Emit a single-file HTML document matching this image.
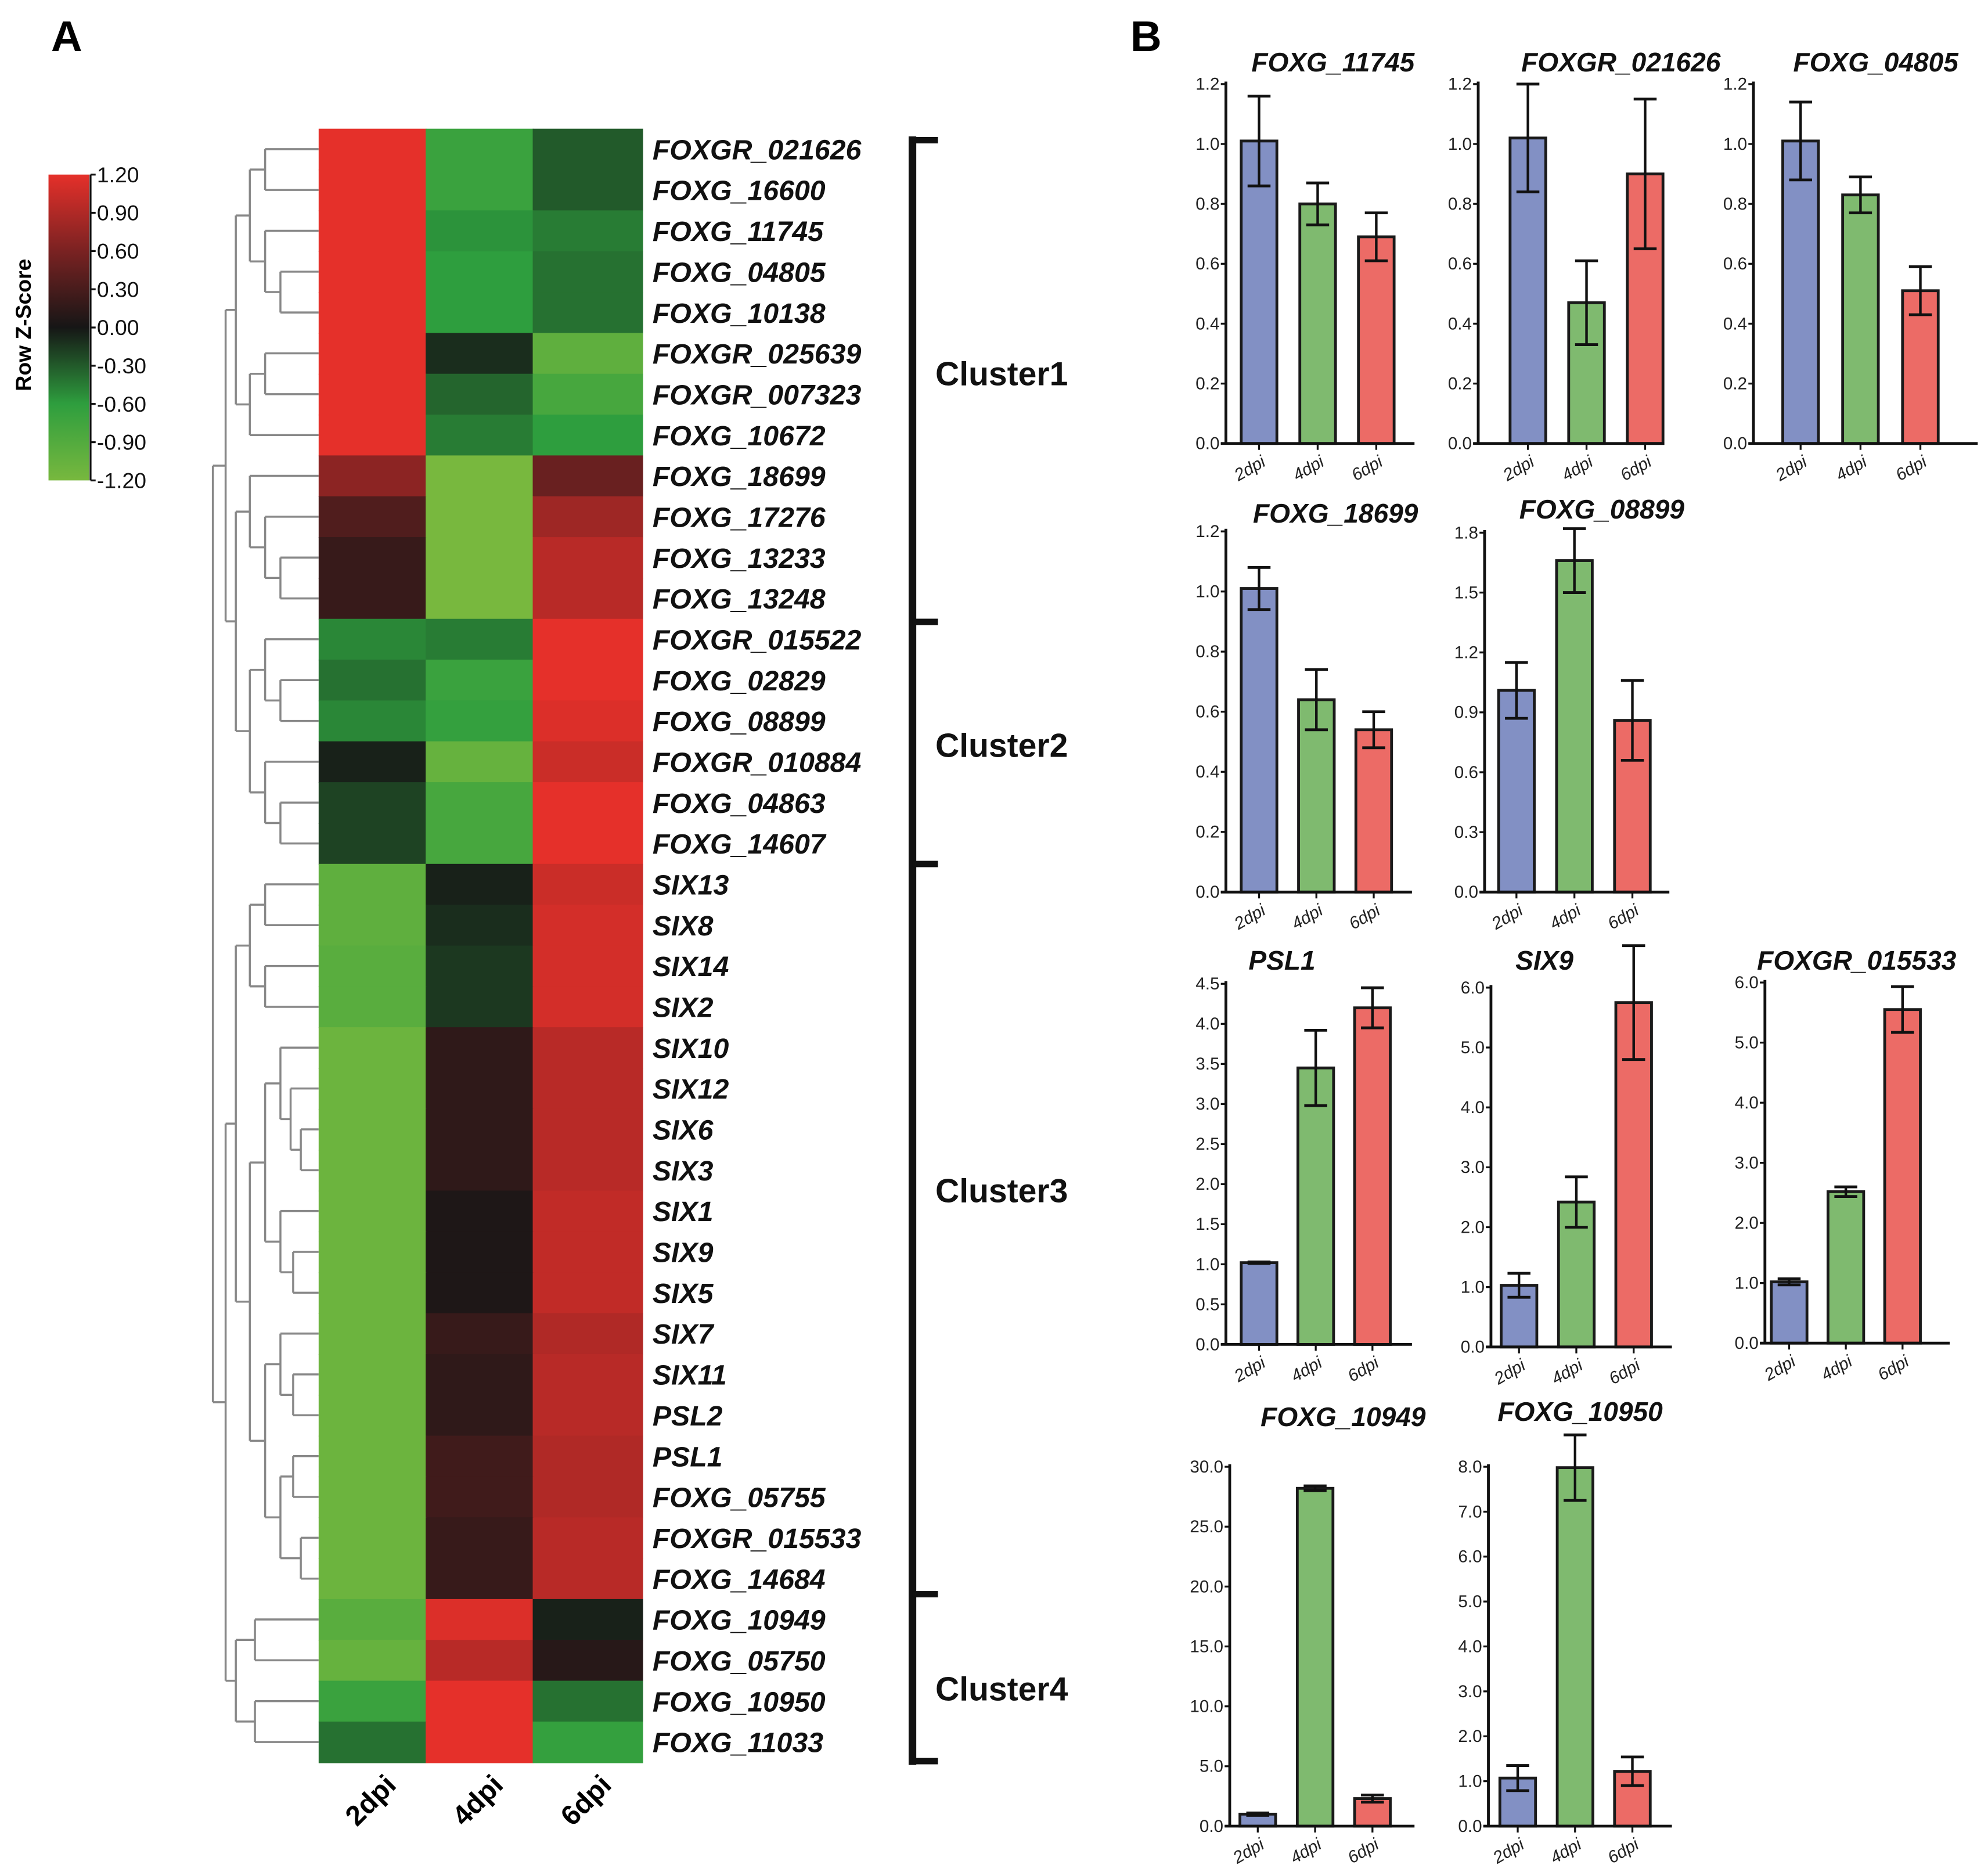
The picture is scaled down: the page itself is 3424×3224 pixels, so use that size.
<!DOCTYPE html>
<html><head><meta charset="utf-8"><style>
html,body{margin:0;padding:0;background:#fff;}
svg{display:block;}
text{font-family:"Liberation Sans",Arial,sans-serif;}
</style></head><body>
<svg id="fig" xmlns="http://www.w3.org/2000/svg" width="3424" height="3224" viewBox="0 0 1560 1469">
<rect x="0" y="0" width="1560" height="1469" fill="#fff"/>
<text x="40" y="40" font-size="34" font-weight="bold">A</text>
<text x="887" y="40" font-size="34" font-weight="bold">B</text>
<defs><linearGradient id="zg" x1="0" y1="0" x2="0" y2="1">
<stop offset="0" stop-color="#e5302a"/><stop offset="0.25" stop-color="#7a2222"/><stop offset="0.5" stop-color="#161616"/><stop offset="0.75" stop-color="#2e9e3e"/><stop offset="1" stop-color="#78b83e"/></linearGradient></defs>
<g id="legend"></g>
<g id="dendro"></g>
<g id="heat"></g>
<g id="clusters"></g>
<g id="bars"></g>
</svg>
<script>
const NS="http://www.w3.org/2000/svg";
const genes=["FOXGR_021626","FOXG_16600","FOXG_11745","FOXG_04805","FOXG_10138","FOXGR_025639","FOXGR_007323","FOXG_10672","FOXG_18699","FOXG_17276","FOXG_13233","FOXG_13248","FOXGR_015522","FOXG_02829","FOXG_08899","FOXGR_010884","FOXG_04863","FOXG_14607","SIX13","SIX8","SIX14","SIX2","SIX10","SIX12","SIX6","SIX3","SIX1","SIX9","SIX5","SIX7","SIX11","PSL2","PSL1","FOXG_05755","FOXGR_015533","FOXG_14684","FOXG_10949","FOXG_05750","FOXG_10950","FOXG_11033"];
const timepoints=["2dpi","4dpi","6dpi"];
const z2dpi=[1.2,1.2,1.2,1.2,1.2,1.2,1.2,1.2,0.7,0.35,0.2,0.2,-0.5,-0.4,-0.5,-0.05,-0.2,-0.2,-1.0,-1.0,-0.95,-0.95,-1.1,-1.1,-1.1,-1.1,-1.1,-1.1,-1.1,-1.1,-1.1,-1.1,-1.1,-1.1,-1.1,-1.1,-0.95,-1.05,-0.7,-0.4];
const z4dpi=[-0.7,-0.7,-0.55,-0.6,-0.6,-0.1,-0.35,-0.45,-1.2,-1.2,-1.2,-1.2,-0.45,-0.7,-0.65,-1.05,-0.8,-0.8,-0.05,-0.1,-0.15,-0.15,0.15,0.15,0.15,0.15,0.05,0.05,0.05,0.2,0.15,0.15,0.25,0.25,0.2,0.2,1.15,0.95,1.2,1.2];
const z6dpi=[-0.3,-0.3,-0.45,-0.4,-0.4,-1.0,-0.8,-0.6,0.5,0.8,0.95,0.95,1.2,1.2,1.15,1.05,1.2,1.2,1.05,1.1,1.1,1.1,0.95,0.95,0.95,0.95,1.0,1.0,1.0,0.9,0.95,0.95,0.9,0.9,0.95,0.95,-0.05,0.1,-0.4,-0.65];
const legendTicks=["1.20","0.90","0.60","0.30","0.00","-0.30","-0.60","-0.90","-1.20"];
const clusterNames=["Cluster1","Cluster2","Cluster3","Cluster4"];
const clusterLabelRows=[5.5,14.6,25.5,37.7];
// bar chart data
const panelTitles=["FOXG_11745","FOXGR_021626","FOXG_04805","FOXG_18699","FOXG_08899","PSL1","SIX9","FOXGR_015533","FOXG_10949","FOXG_10950"];
const panelMeans=[[1.01,0.80,0.69],[1.02,0.47,0.90],[1.01,0.83,0.51],[1.01,0.64,0.54],[1.01,1.66,0.86],[1.02,3.45,4.2],[1.03,2.42,5.75],[1.02,2.52,5.55],[1.0,28.2,2.3],[1.07,7.98,1.22]];
const panelErrs=[[0.15,0.07,0.08],[0.18,0.14,0.25],[0.13,0.06,0.08],[0.07,0.10,0.06],[0.14,0.16,0.2],[0.01,0.47,0.25],[0.2,0.42,0.95],[0.05,0.08,0.38],[0.1,0.2,0.3],[0.28,0.73,0.32]];
const panelMax=[1.2,1.2,1.2,1.2,1.8,4.5,6,6,30,8];
const panelStep=[0.2,0.2,0.2,0.2,0.3,0.5,1,1,5,1];
const panelDigits=[1,1,1,1,1,1,1,1,1,1];

function el(tag,attrs,parent){const e=document.createElementNS(NS,tag);for(const k in attrs)e.setAttribute(k,attrs[k]);parent.appendChild(e);return e;}
function lerp(a,b,t){return a.map((v,i)=>Math.round(v+(b[i]-v)*t));}
const stops=[[-1.2,[120,184,62]],[-0.6,[46,158,62]],[0,[22,22,22]],[0.6,[122,34,34]],[1.2,[229,48,42]]];
function zcol(z){z=Math.max(-1.2,Math.min(1.2,z));for(let i=0;i<stops.length-1;i++){if(z<=stops[i+1][0]){const t=(z-stops[i][0])/(stops[i+1][0]-stops[i][0]);const c=lerp(stops[i][1],stops[i+1][1],t);return `rgb(${c[0]},${c[1]},${c[2]})`;}}return "rgb(229,48,42)";}

// legend
const lg=document.getElementById('legend');
const lgTop=137,lgBot=377;
el('rect',{x:38,y:lgTop,width:32,height:lgBot-lgTop,fill:'url(#zg)'},lg);
el('line',{x1:71,y1:lgTop,x2:71,y2:lgBot,stroke:'#111','stroke-width':1.5},lg);
legendTicks.forEach((t,i)=>{const y=lgTop+(lgBot-lgTop)*i/(legendTicks.length-1);
 el('line',{x1:71,y1:y,x2:75,y2:y,stroke:'#111','stroke-width':1.5},lg);
 const tx=el('text',{x:76,y:y+6,'font-size':17,fill:'#111'},lg);tx.textContent=t;
 
 });
const lt=el('text',{x:0,y:0,'font-size':17,'font-weight':'bold',transform:'translate(24,255) rotate(-90)','text-anchor':'middle'},lg);lt.textContent="Row Z-Score";



// heatmap
const hm=document.getElementById('heat');
const hx0=250,colW=[84,84,86],hy0=101,hy1=1383,rowH=(hy1-hy0)/genes.length;
const cols=[z2dpi,z4dpi,z6dpi];
function rowY(i){return hy0+rowH*(i+0.5);}
genes.forEach((g,i)=>{let x=hx0;
 cols.forEach((arr,c)=>{const r=el('rect',{x:x,y:hy0+rowH*i,width:colW[c]+0.6,height:rowH+0.6,fill:zcol(arr[i])},hm);
  
  x+=colW[c];});
 const t=el('text',{x:512,y:rowY(i)+8,'font-size':22,'font-weight':'bold','font-style':'italic',fill:'#111'},hm);t.textContent=g;
 
 });
let cx=hx0;timepoints.forEach((tp,c)=>{const mx=cx+colW[c]/2+4;cx+=colW[c];
 const t=el('text',{x:0,y:0,'font-size':22,'font-weight':'bold','text-anchor':'middle',transform:`translate(${mx},${1418}) rotate(-45)`},hm);t.textContent=tp;
 
 });

// dendrogram
const N=(x,c)=>({x,c});
const tree=N(167,[
 N(177,[
  N(185,[N(196,[N(208,[0,1]),N(208,[2,N(220,[3,4])])]),N(196,[N(208,[5,6]),7])]),
  N(185,[N(196,[8,N(208,[9,N(220,[10,11])])]),N(196,[N(208,[12,N(220,[13,14])]),N(208,[15,N(220,[16,17])])])])
 ]),
 N(177,[
  N(185,[N(196,[N(208,[18,19]),N(208,[20,21])]),
         N(196,[N(208,[N(220,[22,N(228,[23,N(236,[24,25])])]),N(220,[26,N(230,[27,28])])]),
                N(208,[N(220,[29,N(230,[30,31])]),N(220,[N(230,[32,33]),N(236,[34,35])])])])]),
  N(185,[N(200,[36,37]),N(200,[38,39])])
 ])
]);
const dg=document.getElementById('dendro');
function draw(n){if(typeof n==='number')return {x:hx0,y:rowY(n)};
 const ch=n.c.map(draw);const ys=ch.map(c=>c.y);
 ch.forEach(c=>el('line',{x1:n.x,y1:c.y,x2:c.x,y2:c.y,stroke:'#888','stroke-width':1.6},dg));
 el('line',{x1:n.x,y1:Math.min(...ys),x2:n.x,y2:Math.max(...ys),stroke:'#888','stroke-width':1.6},dg);
 return {x:n.x,y:(Math.min(...ys)+Math.max(...ys))/2};}
draw(tree);

// cluster brackets
const cg=document.getElementById('clusters');
const bx=716;
const bTop=110,bBot=1382;
el('rect',{x:bx-3,y:bTop-3,width:6,height:bBot-bTop+6,fill:'#111'},cg);
[bTop,488,678,1251,bBot].forEach(y=>el('rect',{x:bx,y:y-2.5,width:20,height:5,fill:'#111'},cg));
clusterNames.forEach((nm,i)=>{const y=rowY(clusterLabelRows[i]-0.5)+rowH/2;
 const t=el('text',{x:734,y:y+9,'font-size':26,'font-weight':'bold',fill:'#111'},cg);t.textContent=nm;
 
 });

// bar charts
const layout=[ // axisX, y0, yTop, firstBarX, barSpacing, baselineEnd, titleX, titleY
 [962,348,66,988,46,1110,1046,56],[1160,348,66,1199,46,1306,1272,56],[1376,348,66,1413,47,1552,1472,56],
 [962,700,417,988,45,1108,1048,410],[1165,700,418,1190,45.5,1310,1257,407],
 [962,1055,772,988,44.5,1108,1006,761],[1170,1057,775,1192,45,1312,1212,761],[1385,1054,771,1404,44.5,1530,1457,761],
 [965,1433,1151,987,45,1110,1054,1119],[1168,1433,1151,1191,45,1312,1240,1115]];
const barColors=['#8290c4','#7fba6f','#ec6b66'];
const bg=document.getElementById('bars');
panelTitles.forEach((title,p)=>{
 const [ax,y0,yt,bx0,sp,bend,tx,ty]=layout[p];
 const g=el('g',{},bg);
 
 
 const yS=v=>y0-(y0-yt)*v/panelMax[p];
 const tt=el('text',{x:tx,y:ty,'font-size':21,'font-weight':'bold','font-style':'italic','text-anchor':'middle',fill:'#111'},g);tt.textContent=title;
 
 
 const nT=Math.round(panelMax[p]/panelStep[p]);
 for(let k=0;k<=nT;k++){const v=k*panelStep[p];const y=yS(v);
  el('line',{x1:ax-4,y1:y,x2:ax,y2:y,stroke:'#111','stroke-width':1.5},g);
  const l=el('text',{x:ax-5,y:y+4.5,'font-size':13.5,'text-anchor':'end',fill:'#222'},g);l.textContent=v.toFixed(panelDigits[p]);
  
  }
 panelMeans[p].forEach((m,i)=>{const cxm=bx0+sp*i;const yt2=yS(m);
  const r=el('rect',{x:cxm-14,y:yt2,width:28,height:y0-yt2,fill:barColors[i],stroke:'#1a1a1a','stroke-width':2.2},g);
  
  
  const e=panelErrs[p][i];const ya=yS(m+e),yb=yS(m-e);
  el('line',{x1:cxm,y1:ya,x2:cxm,y2:yb,stroke:'#111','stroke-width':2},g);
  el('line',{x1:cxm-9,y1:ya,x2:cxm+9,y2:ya,stroke:'#111','stroke-width':2.2},g);
  el('line',{x1:cxm-9,y1:yb,x2:cxm+9,y2:yb,stroke:'#111','stroke-width':2.2},g);
  el('line',{x1:cxm,y1:y0,x2:cxm,y2:y0+5,stroke:'#111','stroke-width':1.5},g);
  const xl=el('text',{x:0,y:0,'font-size':13.5,'text-anchor':'end','font-style':'italic',fill:'#222',transform:`translate(${cxm+6},${y0+17}) rotate(-30)`},g);xl.textContent=timepoints[i];
  
  });
 el('line',{x1:ax,y1:yt-2,x2:ax,y2:y0,stroke:'#111','stroke-width':2.2},g);
 el('line',{x1:ax-4,y1:y0,x2:bend,y2:y0,stroke:'#111','stroke-width':2.2},g);
});
</script>
</body></html>
